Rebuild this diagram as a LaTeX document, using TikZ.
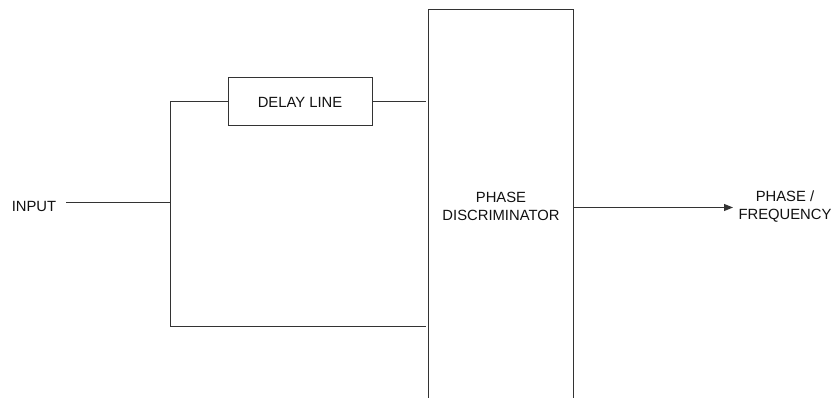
\documentclass[tikz,border=0pt]{standalone}
\usepackage{fontspec}
\setmainfont{Liberation Sans}
\usetikzlibrary{arrows.meta}
\definecolor{ln}{HTML}{333333}
\definecolor{tx}{HTML}{111111}
\begin{document}
\begin{tikzpicture}[x=1pt,y=1pt,
  lbl/.style={text=tx,font=\fontsize{14.8}{18.5}\selectfont,align=center,inner sep=4pt},
  wire/.style={draw=ln,line width=1pt},
  blockbox/.style={draw=ln,line width=1pt,minimum width=144pt,minimum height=48pt,lbl}]
\useasboundingbox (0,0) rectangle (833,398);
\node[lbl,draw=none,minimum width=144pt,minimum height=393pt,inner sep=0pt] (pd) at (501,191.5) {PHASE\\DISCRIMINATOR};
\draw[wire] (pd.south west) -- (pd.north west) -- (pd.north east) -- (pd.south east);
\node[blockbox] (dl) at (300,296) {DELAY LINE};
\node[lbl] (in) at (34,192) {INPUT};
\node[lbl] (out) at (785,191.5) {PHASE /\\FREQUENCY};
\coordinate (j) at (170,195);
\coordinate (tl) at (170,296);
\coordinate (bl) at (170,71);
\coordinate (dr) at (426,296);
\coordinate (br) at (426,71);
\coordinate (oa) at (573,190.5);
\coordinate (ob) at (733,190.5);
\draw[wire] ([xshift=6pt]j -| in.east) -- (j);
\draw[wire] (dl.west) -- (tl) -- (bl) -- (br);
\draw[wire] (dl.east) -- (dr);
\draw[wire,-{Triangle[length=9pt,width=7pt]}] (oa) -- (ob);
\end{tikzpicture}
\end{document}
